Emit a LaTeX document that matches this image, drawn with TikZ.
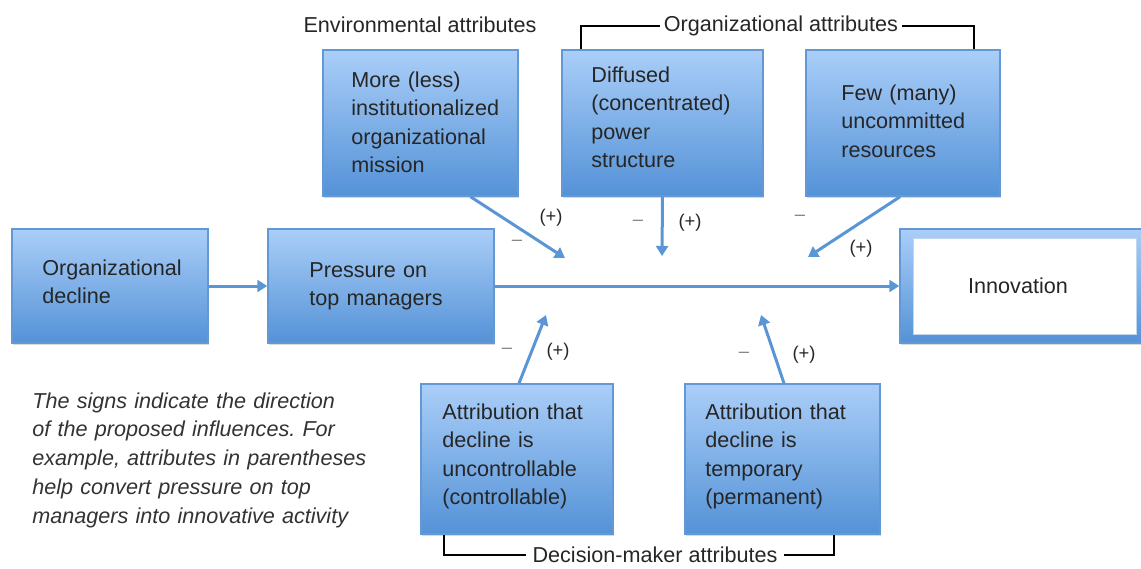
\documentclass[tikz,border=0pt]{standalone}
\usepackage{fontspec}
\setmainfont{Liberation Sans}
\usetikzlibrary{arrows.meta,fit,calc,shadows}
\definecolor{boxtop}{RGB}{170,206,248}
\definecolor{boxbot}{RGB}{84,146,215}
\definecolor{boxline}{RGB}{98,152,212}
\definecolor{flow}{RGB}{90,150,214}
\definecolor{ink}{RGB}{38,38,38}
\frenchspacing
\begin{document}
\begin{tikzpicture}[x=0.5pt,y=-0.5pt,
  box/.style={draw=boxline, line width=0.75pt, top color=boxtop, bottom color=boxbot,
    inner sep=0pt, drop shadow={shadow xshift=0.6pt, shadow yshift=-0.8pt, opacity=0.25, fill=black!60}},
  txt/.style={anchor=base west, inner sep=0pt, text width=120pt, align=left, text=ink,
    font=\fontsize{10.8}{14.3}\selectfont},
  note/.style={txt, text width=200pt, text=black!80, font=\fontsize{10.8}{14.4}\selectfont\itshape},
  caption/.style={inner sep=2pt, text=ink, font=\fontsize{10.8}{13}\selectfont},
  flowarrow/.style={draw=flow, line width=1.5pt, -{Triangle[length=5pt,width=6pt]}},
  bracket/.style={draw=black, line width=0.9pt},
  sign/.style={inner sep=0pt, text=ink, font=\fontsize{9.2}{11}\selectfont},
  minus/.style={sign, text=black!50}]
\useasboundingbox (0,0) rectangle (1141,568);

% boxes of the main chain
\node[box, fit={(12,229)(208,343)}] (od) {};
\node[box, fit={(268,229)(494,343)}] (pm) {};
\node[box, fit={(900,229)(1143,343)}] (inn) {};
\node[fill=white, draw=boxline!40, line width=0.5pt, inner sep=0pt, fit={(913,238)(1136,334)}] (innw) {};

% attribute boxes
\node[box, fit={(323,50)(518,196)}] (mis) {};
\node[box, fit={(562,50)(763,196)}] (pow) {};
\node[box, fit={(806,50)(1000,196)}] (res) {};
\node[box, fit={(421,384)(613,534)}] (unc) {};
\node[box, fit={(685,384)(880,534)}] (tmp) {};

% box texts
\node[txt] (tod) at (42,275) {Organizational\\decline};
\node[txt] (tpm) at (309,277) {Pressure on\\top managers};
\node[caption, inner sep=0pt, anchor=base] (tinn) at (1018,293) {Innovation};
\node[txt] (tmis) at (351,87) {More (less)\\institutionalized\\organizational\\mission};
\node[txt] (tpow) at (591,82) {Diffused\\(concentrated)\\power\\structure};
\node[txt] (tres) at (841,100) {Few (many)\\uncommitted\\resources};
\node[txt] (tunc) at (442,419) {Attribution that\\decline is\\uncontrollable\\(controllable)};
\node[txt] (ttmp) at (705,419) {Attribution that\\decline is\\temporary\\(permanent)};

% main flow
\draw[flowarrow] (od.east) -- (pm.west);
\draw[flowarrow] (pm.east) -- (inn.west);

% moderating influences
\coordinate (emis) at (565,258);
\coordinate (epow) at (662,256);
\coordinate (eres) at (808,257);
\coordinate (eunc) at (546,315);
\coordinate (etmp) at (761,315);
\draw[flowarrow] ($(mis.south)+(50,0)$) -- (emis);
\draw[flowarrow] (pow.south) -- (epow);
\draw[flowarrow] ($(res.south)+(-3,0)$) -- (eres);
\draw[flowarrow] ($(unc.north)+(2,0)$) -- (eunc);
\draw[flowarrow] ($(tmp.north)+(1.5,0)$) -- (etmp);

% signs
\node[minus] (m1) at (517,243) {–};
\node[sign]  (p1) at (551,218) {(+)};
\node[minus] (m2) at (638,223) {–};
\node[sign]  (p2) at (690,223) {(+)};
\node[minus] (m3) at (800,218) {–};
\node[sign]  (p3) at (861,249) {(+)};
\node[minus] (m4) at (507,351) {–};
\node[sign]  (p4) at (558,352) {(+)};
\node[minus] (m5) at (744,355) {–};
\node[sign]  (p5) at (804,355) {(+)};

% group captions
\node[caption, anchor=base] (cenv) at (420,32) {Environmental attributes};
\node[caption] (corg) at (781,26) {Organizational attributes};
\node[caption, inner sep=0pt] (cdec) at (655,555) {Decision-maker attributes};
\draw[bracket] ([xshift=12pt]unc.south west) |- ([xshift=-3pt]cdec.west);
\draw[bracket] ([xshift=3pt]cdec.east) -| ([xshift=-23.5pt]tmp.south east);
\draw[bracket] ([xshift=10pt]pow.north west) |- (corg.west);
\draw[bracket] (corg.east) -| ([xshift=-13.5pt]res.north east);

% explanatory note
\node[note] (nt) at (32,408) {The signs indicate the direction\\of the proposed influences. For\\example, attributes in parentheses\\help convert pressure on top\\managers into innovative activity};
\end{tikzpicture}
\end{document}
